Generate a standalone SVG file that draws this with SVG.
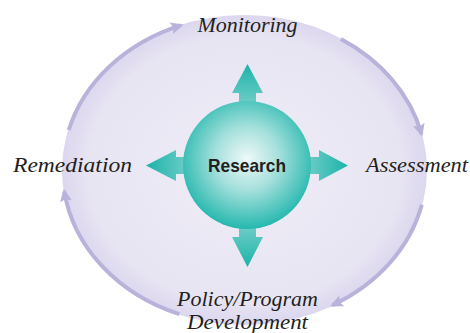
<svg xmlns="http://www.w3.org/2000/svg" width="470" height="333" viewBox="0 0 470 333">
  <style>
    .label { font-family: "Liberation Serif", "DejaVu Serif", serif; font-style: italic; font-size: 22px; fill: #231f20; text-anchor: middle; }
    .core { font-family: "Liberation Sans", Arial, sans-serif; font-weight: bold; font-size: 19px; fill: #231f20; text-anchor: middle; }
    .ring { fill: none; stroke: #b9b2da; stroke-width: 4; marker-end: url(#ringHead); }
  </style>
  <defs>
    <radialGradient id="ovalFill" cx="0.5" cy="0.5" r="0.5">
      <stop offset="0" stop-color="#efedf7"/>
      <stop offset="0.85" stop-color="#e8e5f3"/>
      <stop offset="1" stop-color="#dcd7ee"/>
    </radialGradient>
    <radialGradient id="sphereFill" cx="0.5" cy="0.45" r="0.55">
      <stop offset="0" stop-color="#eef9f8"/>
      <stop offset="0.45" stop-color="#a6e0dc"/>
      <stop offset="1" stop-color="#25b8ae"/>
    </radialGradient>
    <linearGradient id="upGrad" x1="0" y1="1" x2="0" y2="0">
      <stop offset="0" stop-color="#7fd3cd"/>
      <stop offset="1" stop-color="#1cb3a9"/>
    </linearGradient>
    <linearGradient id="downGrad" x1="0" y1="0" x2="0" y2="1">
      <stop offset="0" stop-color="#7fd3cd"/>
      <stop offset="1" stop-color="#1cb3a9"/>
    </linearGradient>
    <linearGradient id="leftGrad" x1="1" y1="0" x2="0" y2="0">
      <stop offset="0" stop-color="#7fd3cd"/>
      <stop offset="1" stop-color="#1cb3a9"/>
    </linearGradient>
    <linearGradient id="rightGrad" x1="0" y1="0" x2="1" y2="0">
      <stop offset="0" stop-color="#7fd3cd"/>
      <stop offset="1" stop-color="#1cb3a9"/>
    </linearGradient>
    <marker id="ringHead" markerUnits="userSpaceOnUse" markerWidth="14" markerHeight="14" viewBox="0 0 14 14" refX="10" refY="7" orient="auto">
      <path d="M0,1 L13,7 L0,13 L2.5,7 z" fill="#b9b2da"/>
    </marker>
  </defs>

  <g id="cycle-background">
    <ellipse cx="244.5" cy="170" rx="182.5" ry="155" fill="url(#ovalFill)"/>
  </g>

  <g id="connectors">
    <path class="ring" d="M68.7,130 A182,154.5 0 0 1 180.8,25.3"/>
    <path class="ring" d="M340.9,39 A182,154.5 0 0 1 421.5,133.9"/>
    <path class="ring" d="M421.8,204.8 A182,154.5 0 0 1 332.7,305.1"/>
    <path class="ring" d="M179.3,314.2 A182,154.5 0 0 1 64.3,191.5"/>
    <polygon fill="url(#upGrad)" points="239,112 239,93 232,93 247.5,64 263,93 256,93 256,112"/>
    <polygon fill="url(#downGrad)" points="239,218 239,237 232,237 247.5,267 263,237 256,237 256,218"/>
    <polygon fill="url(#leftGrad)" points="197,157 176,157 176,150 146,165.5 176,181 176,174 197,174"/>
    <polygon fill="url(#rightGrad)" points="298,157 319,157 319,150 348,165.5 319,181 319,174 298,174"/>
  </g>

  <g id="research">
    <circle cx="247" cy="165" r="64" fill="url(#sphereFill)"/>
    <text class="core" x="247" y="172" textLength="78" lengthAdjust="spacingAndGlyphs">Research</text>
  </g>

  <g id="monitoring">
    <text class="label" x="247.5" y="32">Monitoring</text>
  </g>
  <g id="assessment">
    <text class="label" x="417" y="172" textLength="102" lengthAdjust="spacingAndGlyphs">Assessment</text>
  </g>
  <g id="policy-program-development">
    <text class="label" x="247.5" y="306">Policy/Program</text>
    <text class="label" x="247.5" y="329" textLength="121" lengthAdjust="spacingAndGlyphs">Development</text>
  </g>
  <g id="remediation">
    <text class="label" x="72.5" y="172" textLength="119" lengthAdjust="spacingAndGlyphs">Remediation</text>
  </g>
</svg>
